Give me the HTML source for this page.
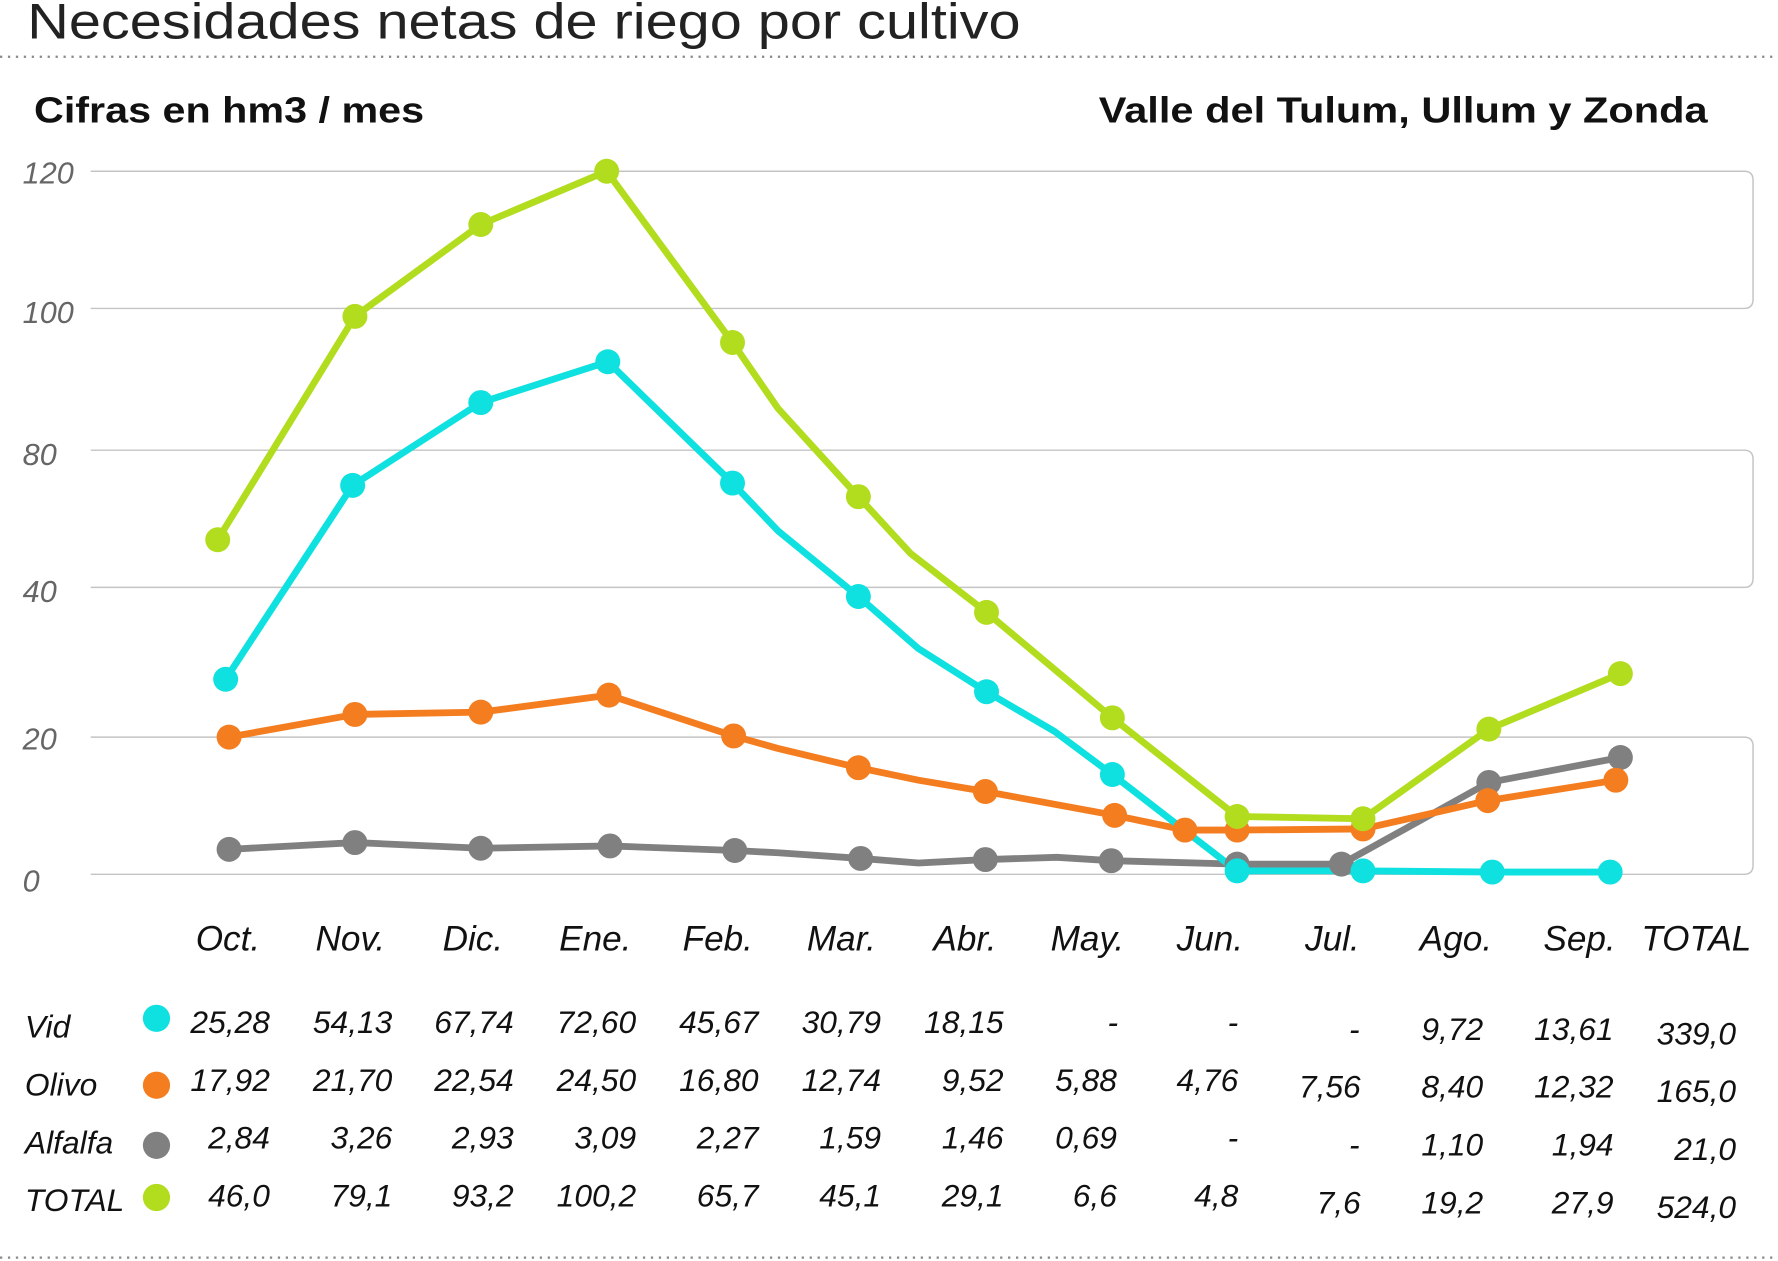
<!DOCTYPE html>
<html><head><meta charset="utf-8"><style>
html,body{margin:0;padding:0;background:#fff;width:1778px;height:1261px;overflow:hidden}
svg{display:block}
text{font-family:"Liberation Sans",sans-serif}
.it{font-style:italic}
</style></head><body>
<svg width="1778" height="1261" viewBox="0 0 1568 1112" preserveAspectRatio="none">
<text x="24" y="34" font-size="44" fill="#222" textLength="876" lengthAdjust="spacingAndGlyphs">Necesidades netas de riego por cultivo</text>
<line x1="0" y1="50" x2="1568" y2="50" stroke="#888" stroke-width="2" stroke-dasharray="2,5"/>
<line x1="0" y1="1109" x2="1568" y2="1109" stroke="#888" stroke-width="2" stroke-dasharray="2,5"/>
<text x="30" y="108" font-size="32" font-weight="bold" fill="#111" textLength="344" lengthAdjust="spacingAndGlyphs">Cifras en hm3 / mes</text>
<text x="969" y="108" font-size="32" font-weight="bold" fill="#111" textLength="537" lengthAdjust="spacingAndGlyphs">Valle del Tulum, Ullum y Zonda</text>
<g fill="none" stroke="#c4c4c4" stroke-width="1.3">
<path d="M80 151 H1538 Q1546 151 1546 159 V264 Q1546 272 1538 272 H80"/>
<path d="M80 397 H1538 Q1546 397 1546 405 V510 Q1546 518 1538 518 H80"/>
<path d="M80 650 H1538 Q1546 650 1546 658 V763 Q1546 771 1538 771 H80"/>
</g>
<g class="it" font-size="27" fill="#666">
<text x="20" y="162">120</text><text x="20" y="285">100</text><text x="20" y="410">80</text>
<text x="20" y="531">40</text><text x="20" y="661">20</text><text x="20" y="786">0</text>
</g>
<g fill="none" stroke-width="6" stroke-linejoin="round">
<polyline stroke="#808080" points="202,749 313,743 424,748 538,746 648,750 686,752 759,757 810,761 869,758 932,756 980,759 1091,762 1183,762 1313,690 1429,668"/>
<polyline stroke="#f47d20" points="202,650 313,630 424,628 537,613 647,649 686,660 757,677 810,688 869,698 983,719 1045,732 1091,732 1202,731 1312,706 1425,688"/>
<polyline stroke="#0fe0e0" points="199,599 311,428 424,355 536,319 646,426 686,468 757,526 810,572 870,610 930,645 981,683 1091,768 1202,768 1316,769 1420,769"/>
<polyline stroke="#b2dc1e" points="192,476 313,279 424,198 535,151 646,302 686,360 757,438 803,488 870,540 981,633 1091,720 1202,722 1313,643 1429,594"/>
</g>
<g fill="#808080"><circle cx="202" cy="749" r="11"/><circle cx="313" cy="743" r="11"/><circle cx="424" cy="748" r="11"/><circle cx="538" cy="746" r="11"/><circle cx="648" cy="750" r="11"/><circle cx="759" cy="757" r="11"/><circle cx="869" cy="758" r="11"/><circle cx="980" cy="759" r="11"/><circle cx="1091" cy="762" r="11"/><circle cx="1183" cy="762" r="11"/><circle cx="1313" cy="690" r="11"/><circle cx="1429" cy="668" r="11"/></g>
<g fill="#f47d20"><circle cx="202" cy="650" r="11"/><circle cx="313" cy="630" r="11"/><circle cx="424" cy="628" r="11"/><circle cx="537" cy="613" r="11"/><circle cx="647" cy="649" r="11"/><circle cx="757" cy="677" r="11"/><circle cx="869" cy="698" r="11"/><circle cx="983" cy="719" r="11"/><circle cx="1045" cy="732" r="11"/><circle cx="1091" cy="732" r="11"/><circle cx="1202" cy="731" r="11"/><circle cx="1312" cy="706" r="11"/><circle cx="1425" cy="688" r="11"/></g>
<g fill="#0fe0e0"><circle cx="199" cy="599" r="11"/><circle cx="311" cy="428" r="11"/><circle cx="424" cy="355" r="11"/><circle cx="536" cy="319" r="11"/><circle cx="646" cy="426" r="11"/><circle cx="757" cy="526" r="11"/><circle cx="870" cy="610" r="11"/><circle cx="981" cy="683" r="11"/><circle cx="1091" cy="768" r="11"/><circle cx="1202" cy="768" r="11"/><circle cx="1316" cy="769" r="11"/><circle cx="1420" cy="769" r="11"/></g>
<g fill="#b2dc1e"><circle cx="192" cy="476" r="11"/><circle cx="313" cy="279" r="11"/><circle cx="424" cy="198" r="11"/><circle cx="535" cy="151" r="11"/><circle cx="646" cy="302" r="11"/><circle cx="757" cy="438" r="11"/><circle cx="870" cy="540" r="11"/><circle cx="981" cy="633" r="11"/><circle cx="1091" cy="720" r="11"/><circle cx="1202" cy="722" r="11"/><circle cx="1313" cy="643" r="11"/><circle cx="1429" cy="594" r="11"/></g>
<g class="it" font-size="31" fill="#111" text-anchor="middle">
<text x="201" y="838">Oct.</text><text x="309" y="838">Nov.</text><text x="417" y="838">Dic.</text><text x="525" y="838">Ene.</text><text x="633" y="838">Feb.</text><text x="742" y="838">Mar.</text><text x="851" y="838">Abr.</text><text x="959" y="838">May.</text><text x="1067" y="838">Jun.</text><text x="1175" y="838">Jul.</text><text x="1284" y="838">Ago.</text><text x="1393" y="838">Sep.</text><text x="1496" y="838">TOTAL</text>
</g>
<g class="it" font-size="28" fill="#111">
<text x="22" y="915">Vid</text><text x="22" y="966">Olivo</text><text x="22" y="1017">Alfalfa</text><text x="22" y="1068">TOTAL</text>
</g>
<circle cx="138" cy="898" r="12" fill="#0fe0e0"/><circle cx="138" cy="957" r="12" fill="#f47d20"/><circle cx="138" cy="1010" r="12" fill="#808080"/><circle cx="138" cy="1056" r="12" fill="#b2dc1e"/>
<g class="it" font-size="28" fill="#111" text-anchor="end">
<text x="238" y="911">25,28</text><text x="346" y="911">54,13</text><text x="453" y="911">67,74</text><text x="561" y="911">72,60</text><text x="669" y="911">45,67</text><text x="777" y="911">30,79</text><text x="885" y="911">18,15</text><text x="986" y="911">-</text><text x="1092" y="911">-</text><text x="1199" y="917">-</text><text x="1308" y="917">9,72</text><text x="1423" y="917">13,61</text><text x="1531" y="921">339,0</text>
<text x="238" y="962">17,92</text><text x="346" y="962">21,70</text><text x="453" y="962">22,54</text><text x="561" y="962">24,50</text><text x="669" y="962">16,80</text><text x="777" y="962">12,74</text><text x="885" y="962">9,52</text><text x="985" y="962">5,88</text><text x="1092" y="962">4,76</text><text x="1200" y="968">7,56</text><text x="1308" y="968">8,40</text><text x="1423" y="968">12,32</text><text x="1531" y="972">165,0</text>
<text x="238" y="1013">2,84</text><text x="346" y="1013">3,26</text><text x="453" y="1013">2,93</text><text x="561" y="1013">3,09</text><text x="669" y="1013">2,27</text><text x="777" y="1013">1,59</text><text x="885" y="1013">1,46</text><text x="985" y="1013">0,69</text><text x="1092" y="1013">-</text><text x="1199" y="1019">-</text><text x="1308" y="1019">1,10</text><text x="1423" y="1019">1,94</text><text x="1531" y="1023">21,0</text>
<text x="238" y="1064">46,0</text><text x="346" y="1064">79,1</text><text x="453" y="1064">93,2</text><text x="561" y="1064">100,2</text><text x="669" y="1064">65,7</text><text x="777" y="1064">45,1</text><text x="885" y="1064">29,1</text><text x="985" y="1064">6,6</text><text x="1092" y="1064">4,8</text><text x="1200" y="1070">7,6</text><text x="1308" y="1070">19,2</text><text x="1423" y="1070">27,9</text><text x="1531" y="1074">524,0</text>
</g>
</svg>
</body></html>
